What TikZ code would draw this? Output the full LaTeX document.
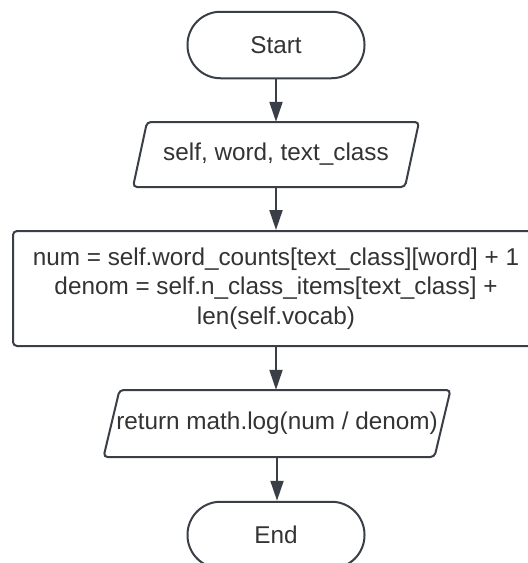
\documentclass[tikz,border=0pt]{standalone}
\usepackage{fontspec}
\setmainfont{Liberation Sans}
\usetikzlibrary{arrows.meta,calc}
\definecolor{edgegray}{HTML}{3A3E46}
\definecolor{textgray}{HTML}{333333}
\tikzset{
  every node/.style={font=\fontsize{24.3}{29.6}\selectfont, text=textgray},
  terminal/.style={draw=edgegray, line width=2pt, fill=white, rounded corners=33pt,
    minimum width=177pt, minimum height=66.5pt, inner sep=0pt},
  process/.style={draw=edgegray, line width=2pt, fill=white, rounded corners=4pt,
    minimum width=526pt, minimum height=115pt, inner sep=0pt, align=center},
  iotext/.style={inner sep=0pt},
  ioedge/.style={draw=edgegray, line width=2pt, rounded corners=4pt, fill=white},
  flow/.style={draw=edgegray, line width=2pt, -{Triangle[length=20pt,width=13pt]}}
}
\begin{document}
\begin{tikzpicture}[x=1pt, y=-1pt]
  \useasboundingbox (0,0) rectangle (528,563);
  \clip (0,0) rectangle (528,563);
  \fill[white] (0,0) rectangle (528,563);

  % start terminal
  \node[terminal] (start) at (276,45) {Start};

  % input parallelogram: outline drawn around a plain box
  \coordinate (io1c) at (276,154.5);
  \path[ioedge] ($(io1c)+(-129,-32.5)$) -- ($(io1c)+(143,-32.5)$)
     -- ($(io1c)+(129,32.5)$) -- ($(io1c)+(-143,32.5)$) -- cycle;
  \node[iotext, minimum width=272pt, minimum height=65pt] (io1) at (io1c) {self, word, text\_class};

  % computation box
  \node[process] (calc) at (276,288.5)
    {num = self.word\_counts[text\_class][word] + 1\\
     denom = self.n\_class\_items[text\_class] +\\
     len(self.vocab)};

  % output parallelogram
  \coordinate (io2c) at (277,423.5);
  \path[ioedge] ($(io2c)+(-157.5,-33.5)$) -- ($(io2c)+(173.5,-33.5)$)
     -- ($(io2c)+(157.5,33.5)$) -- ($(io2c)+(-173.5,33.5)$) -- cycle;
  \node[iotext, minimum width=331pt, minimum height=67pt] (io2) at (io2c) {return math.log(num / denom)};

  % end terminal
  \node[terminal] (end) at (276,535) {End};

  % connectors
  \draw[flow] (start.south) -- (start.south |- io1.north);
  \draw[flow] (io1.south) -- (io1.south |- calc.north);
  \draw[flow] (calc.south) -- (calc.south |- io2.north);
  \draw[flow] (io2.south) -- (io2.south |- end.north);
\end{tikzpicture}
\end{document}
